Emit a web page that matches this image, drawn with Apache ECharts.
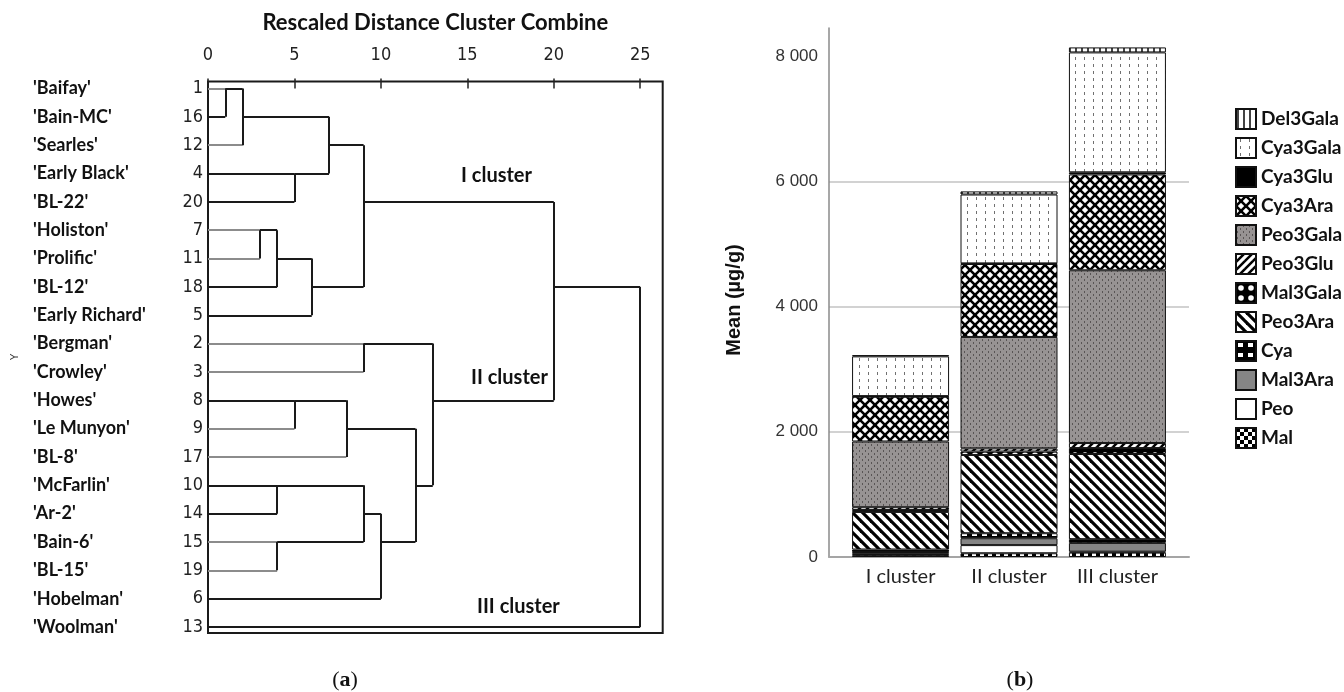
<!DOCTYPE html>
<html><head><meta charset="utf-8">
<script src="https://cdn.jsdelivr.net/npm/echarts@6/dist/echarts.min.js"></script>
<style>html,body{margin:0;padding:0;background:#fff}#c{width:1344px;height:692px}</style>
</head><body><div id="c"></div>
<script>
// ---------- (a) dendrogram data ----------
const cultivarNames = ["'Baifay'","'Bain-MC'","'Searles'","'Early Black'","'BL-22'","'Holiston'","'Prolific'","'BL-12'","'Early Richard'","'Bergman'","'Crowley'","'Howes'","'Le Munyon'","'BL-8'","'McFarlin'","'Ar-2'","'Bain-6'","'BL-15'","'Hobelman'","'Woolman'"];
const caseNumbers = [1,16,12,4,20,7,11,18,5,2,3,8,9,17,10,14,15,19,6,13];
// merges: [nodeA, nodeB, rescaled distance]; nodes 0-19 = leaves in row order, 20+ = merge results
const merges = [[0,1,1],[20,2,2],[3,4,5],[21,22,7],[5,6,3],[24,7,4],[25,8,6],[23,26,9],
                [9,10,9],[11,12,5],[29,13,8],[14,15,4],[16,17,4],[31,32,9],[33,18,10],[30,34,12],[28,35,13],
                [27,36,20],[37,19,25]];
const distanceTicks = [0,5,10,15,20,25];
const grayLeafCases = [1,12,7,11,2,3,9,17,15,19];
const clusterNames = ['I cluster','II cluster','III cluster'];

// ---------- (b) stacked bar data (µg/g) ----------
const barCategories = ['I cluster','II cluster','III cluster'];
const Mal      = [30, 60, 70];
const Peo      = [20, 130, 15];
const Mal3Ara  = [30, 110, 140];
const Cya      = [40, 80, 60];
const Peo3Ara  = [600, 1250, 1360];
const Mal3Gala = [30, 55, 95];
const Peo3Glu  = [45, 50, 80];
const Peo3Gala = [1050, 1780, 2760];
const Cya3Ara  = [715, 1165, 1530];
const Cya3Glu  = [10, 10, 35];
const Cya3Gala = [635, 1100, 1915];
const Del3Gala = [20, 50, 80];
const meanTicks = [0, 2000, 4000, 6000, 8000];

const stackOrder = [['Mal',Mal],['Peo',Peo],['Mal3Ara',Mal3Ara],['Cya',Cya],['Peo3Ara',Peo3Ara],['Mal3Gala',Mal3Gala],
  ['Peo3Glu',Peo3Glu],['Peo3Gala',Peo3Gala],['Cya3Ara',Cya3Ara],['Cya3Glu',Cya3Glu],['Cya3Gala',Cya3Gala],['Del3Gala',Del3Gala]];

// ---------- patterns ----------
function pat(w,h,draw){const c=document.createElement('canvas');c.width=w;c.height=h;const g=c.getContext('2d');draw(g,w,h);return {image:c,repeat:'repeat'};}
function line(g,x1,y1,x2,y2){g.beginPath();g.moveTo(x1,y1);g.lineTo(x2,y2);g.stroke();}
const fills = {
  Del3Gala: pat(6,6,(g,w,h)=>{g.fillStyle='#fff';g.fillRect(0,0,w,h);g.fillStyle='#444';g.fillRect(1,0,2,h);}),
  Cya3Gala: pat(9,7,(g,w,h)=>{g.fillStyle='#fff';g.fillRect(0,0,w,h);g.fillStyle='#707070';g.fillRect(4,1,1,3);}),
  Cya3Glu: '#000',
  Cya3Ara: pat(10,10,(g,w,h)=>{g.fillStyle='#fff';g.fillRect(0,0,w,h);g.strokeStyle='#000';g.lineWidth=2.6;line(g,0,0,10,10);line(g,10,0,0,10);
                               g.fillStyle='#000';[[0,0],[10,0],[0,10],[10,10],[5,5]].forEach(([x,y])=>{g.beginPath();g.arc(x,y,1.8,0,Math.PI*2);g.fill();});}),
  Peo3Gala: pat(6,6,(g,w,h)=>{g.fillStyle='#979393';g.fillRect(0,0,w,h);g.fillStyle='#595555';g.fillRect(1,0,1,2);g.fillRect(4,3,1,2);}),
  Peo3Glu: pat(8,8,(g,w,h)=>{g.fillStyle='#fff';g.fillRect(0,0,w,h);g.strokeStyle='#000';g.lineWidth=2.5;line(g,-1,9,9,-1);line(g,-5,5,5,-5);line(g,3,13,13,3);}),
  Mal3Gala: pat(10,10,(g,w,h)=>{g.fillStyle='#000';g.fillRect(0,0,w,h);g.fillStyle='#fff';g.beginPath();g.arc(5,5,2.8,0,Math.PI*2);g.fill();}),
  Peo3Ara: pat(10,10,(g,w,h)=>{g.fillStyle='#fff';g.fillRect(0,0,w,h);g.strokeStyle='#000';g.lineWidth=3.2;line(g,-1,-1,11,11);line(g,-6,4,6,16);line(g,4,-6,16,6);}),
  Cya: pat(10,10,(g,w,h)=>{g.fillStyle='#000';g.fillRect(0,0,w,h);g.fillStyle='#fff';g.fillRect(2,2,5,4);}),
  Mal3Ara: '#858585',
  Peo: '#ffffff',
  Mal: pat(8,8,(g,w,h)=>{g.fillStyle='#fff';g.fillRect(0,0,w,h);g.fillStyle='#000';g.fillRect(0,0,4,4);g.fillRect(4,4,4,4);})
};

// ---------- dendrogram segments ----------
const nodes = caseNumbers.map((_, i) => ({x: 0, y: i}));
const graySegs = [], blackSegs = [];
merges.forEach(([a, b, d]) => {
  const A = nodes[a], B = nodes[b];
  [[a, A], [b, B]].forEach(([idx, N]) => {
    const seg = {coords: [[N.x, N.y], [d, N.y]]};
    if (idx < caseNumbers.length && grayLeafCases.includes(caseNumbers[idx])) graySegs.push(seg); else blackSegs.push(seg);
  });
  blackSegs.push({coords: [[d, A.y], [d, B.y]]});
  nodes.push({x: d, y: Math.floor((A.y + B.y) / 2)});
});

const rowIdx = caseNumbers.map((_, i) => i);
const yMin = -0.247, yMax = 19.21;
const sepFmt = v => String(v).replace(/\B(?=(\d{3})+(?!\d))/g, ' ');

const chart = echarts.init(document.getElementById('c'), null, {renderer: 'canvas'});
// data rows are [value, categoryIndex] so that the value column is the stacked one
const barSeries = stackOrder.map(([name, vals]) => ({
  name, type: 'bar', stack: 'total', xAxisIndex: 1, yAxisIndex: 2, barWidth: 97,
  data: vals.map((v, i) => [v, i]),
  encode: {x: 1, y: 0},
  itemStyle: {color: fills[name], borderColor: '#111', borderWidth: 1},
  emphasis: {disabled: true}, silent: true
}));

chart.setOption({
  animation: false,
  backgroundColor: '#fff',
  grid: [
    {left: 208, top: 81.5, width: 454.7, height: 551.5, show: true, borderColor: '#1a1a1a', borderWidth: 2, backgroundColor: 'transparent'},
    {left: 829, top: 28, width: 360, height: 529}
  ],
  xAxis: [
    {gridIndex: 0, type: 'value', position: 'top', min: 0, max: 26.3,
     name: 'Rescaled Distance Cluster Combine', nameLocation: 'middle', nameGap: 48,
     nameTextStyle: {fontFamily: 'Lato', fontWeight: 'bold', fontSize: 22, color: '#111'},
     axisLine: {show: false},
     axisTick: {show: true, inside: false, length: 10, customValues: distanceTicks, lineStyle: {color: '#222', width: 1.5}},
     axisLabel: {customValues: distanceTicks, margin: 17, fontFamily: 'Liberation Sans Narrow, DejaVu Sans Condensed, Liberation Sans', fontSize: 18, color: '#222'},
     splitLine: {show: false}},
    {gridIndex: 1, type: 'value', min: -0.66, max: 2.66,
     axisLine: {show: true, onZero: false, lineStyle: {color: '#a5a5a5', width: 2}},
     axisTick: {show: false},
     axisLabel: {customValues: [0, 1, 2], formatter: v => barCategories[Math.round(v)], margin: 10, fontFamily: 'Lato', fontSize: 20, color: '#222'},
     splitLine: {show: false}}
  ],
  yAxis: [
    {gridIndex: 0, type: 'value', position: 'left', inverse: true, min: yMin, max: yMax,
     axisLine: {show: false}, axisTick: {show: false}, splitLine: {show: false},
     axisLabel: {customValues: rowIdx, formatter: v => String(caseNumbers[Math.round(v)]), margin: 5,
                 fontFamily: 'Liberation Sans Narrow, DejaVu Sans Condensed, Liberation Sans', fontSize: 18, color: '#222'}},
    {gridIndex: 0, type: 'value', position: 'left', offset: 0, inverse: true, min: yMin, max: yMax,
     axisLine: {show: false}, axisTick: {show: false}, splitLine: {show: false},
     axisLabel: {customValues: rowIdx, formatter: v => cultivarNames[Math.round(v)], align: 'left', margin: 175,
                 fontFamily: 'Lato', fontWeight: 'bold', fontSize: 18, color: '#111'}},
    {gridIndex: 1, type: 'value', position: 'left', min: 0, max: 8450, interval: 2000,
     axisLine: {show: true, onZero: false, lineStyle: {color: '#8a8a8a', width: 1.5}},
     axisTick: {show: false, customValues: meanTicks},
     axisLabel: {customValues: meanTicks, formatter: sepFmt, margin: 11, fontFamily: 'Liberation Sans', fontSize: 17, color: '#333'},
     splitLine: {show: true, showMaxLine: false, showMinLine: false, lineStyle: {color: '#d2d2d2', width: 2}}}
  ],
  legend: {
    orient: 'vertical', left: 1230, top: 103, icon: 'rect', itemWidth: 20, itemHeight: 20, itemGap: 7,
    data: stackOrder.map(s => s[0]).reverse(), selectedMode: false,
    textStyle: {fontFamily: 'Lato', fontWeight: 'bold', fontSize: 19, color: '#111'}
  },
  graphic: [
    {type: 'text', left: 461, top: 166, style: {text: clusterNames[0], font: 'bold 20px Lato', fill: '#111'}},
    {type: 'text', left: 471, top: 368, style: {text: clusterNames[1], font: 'bold 20px Lato', fill: '#111'}},
    {type: 'text', left: 477, top: 597, style: {text: clusterNames[2], font: 'bold 20px Lato', fill: '#111'}},
    {type: 'text', x: 734, y: 300, rotation: Math.PI / 2, style: {text: 'Mean (µg/g)', font: 'bold 20px Liberation Sans', fill: '#111', textAlign: 'center', textVerticalAlign: 'middle'}},
    {type: 'text', x: 15, y: 357, rotation: Math.PI / 2, style: {text: 'Y', font: '10px Liberation Sans', fill: '#333', textAlign: 'center', textVerticalAlign: 'middle'}},
    {type: 'text', x: 345, y: 680, style: {text: '({b|a})', textAlign: 'center', textVerticalAlign: 'middle', font: '22px Liberation Serif', fill: '#111', rich: {b: {fontWeight: 'bold', fontSize: 22, fontFamily: 'Liberation Serif'}}}},
    {type: 'text', x: 1020, y: 680, style: {text: '({b|b})', textAlign: 'center', textVerticalAlign: 'middle', font: '22px Liberation Serif', fill: '#111', rich: {b: {fontWeight: 'bold', fontSize: 22, fontFamily: 'Liberation Serif'}}}}
  ],
  series: [
    {type: 'lines', coordinateSystem: 'cartesian2d', xAxisIndex: 0, yAxisIndex: 0, silent: true, z: 3,
     lineStyle: {color: '#8c8c8c', width: 2, opacity: 1}, data: graySegs},
    {type: 'lines', coordinateSystem: 'cartesian2d', xAxisIndex: 0, yAxisIndex: 0, silent: true, z: 4,
     lineStyle: {color: '#1a1a1a', width: 2, opacity: 1}, data: blackSegs},
    ...barSeries
  ]
});
</script></body></html>
